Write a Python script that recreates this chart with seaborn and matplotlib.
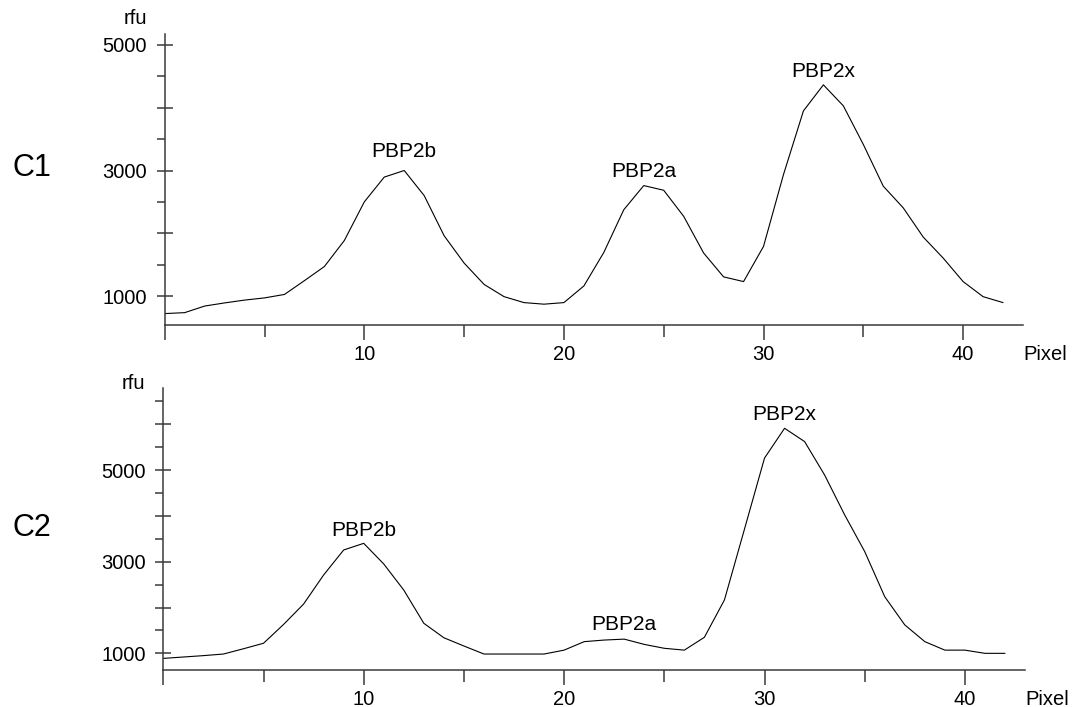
import matplotlib
matplotlib.use('Agg')
import matplotlib.pyplot as plt
import numpy as np
import pandas as pd
import seaborn as sns
from matplotlib.ticker import MultipleLocator, FuncFormatter

# 数据：两条泳道的荧光强度曲线 (rfu) 随像素位置变化
pixel = list(range(43))
c1_rfu = [720, 735, 840, 890, 935, 970, 1025, 1245, 1470, 1885, 2500, 2895, 3000, 2600,
          1960, 1525, 1185, 990, 895, 870, 895, 1160, 1695, 2375, 2760, 2685, 2270, 1685,
          1305, 1230, 1790, 2935, 3950, 4365, 4030, 3415, 2750, 2405, 1940, 1605, 1230, 990, 895]
c2_rfu = [890, 920, 950, 985, 1100, 1220, 1630, 2075, 2710, 3255, 3400, 2950, 2380, 1655,
          1340, 1160, 985, 985, 985, 985, 1070, 1255, 1290, 1310, 1195, 1110, 1070, 1350,
          2165, 3710, 5260, 5910, 5620, 4890, 4020, 3220, 2235, 1620, 1255, 1070, 1070, 1000, 1000]
lanes = ['C1', 'C2']
peak_names = ['PBP2b', 'PBP2a', 'PBP2x']
c1_peaks = [12, 24, 33]
c2_peaks = [10, 23, 31]

sns.set_style('ticks')
plt.rcParams['font.family'] = ['Liberation Sans', 'DejaVu Sans']
plt.rcParams['text.color'] = 'black'

fig = plt.figure(figsize=(10.73, 7.07), dpi=100)
# 坐标轴位置 (figure 比例)
ax1 = fig.add_axes([0.1535, 0.5403, 0.7999, 0.4116])
ax2 = fig.add_axes([0.1522, 0.0523, 0.8031, 0.3989])

panels = [
    (ax1, c1_rfu, c1_peaks, (538, 5175), [10, 6.5, 6]),
    (ax2, c2_rfu, c2_peaks, (636, 6789), [5, 6.5, 6]),
]

axis_col = '#3a3a3a'
for ax, vals, peaks, ylim, gaps in panels:
    df = pd.DataFrame({'Pixel': pixel, 'rfu': vals})
    sns.lineplot(data=df, x='Pixel', y='rfu', ax=ax, color='black', linewidth=0.8)
    ax.set_xlim(0, 43)
    ax.set_ylim(*ylim)
    ax.set_xlabel('')
    ax.set_ylabel('')

    for s in ['top', 'right']:
        ax.spines[s].set_visible(False)
    for s in ['left', 'bottom']:
        ax.spines[s].set_color(axis_col)
        ax.spines[s].set_linewidth(1.1)

    # x 轴刻度
    ax.xaxis.set_major_locator(MultipleLocator(10))
    ax.xaxis.set_minor_locator(MultipleLocator(5))
    ax.xaxis.set_major_formatter(FuncFormatter(lambda v, p: f'{int(v)}' if v > 0 else ''))
    ax.tick_params(axis='x', which='major', direction='out', length=10.8, width=1.1,
                   color=axis_col, labelcolor='black', pad=3.6, labelsize=14.5)
    ax.tick_params(axis='x', which='minor', direction='out', length=8.5, width=1.1,
                   color=axis_col)

    # y 轴刻度：只标 1000, 3000, 5000
    ax.yaxis.set_major_locator(MultipleLocator(1000))
    ax.yaxis.set_minor_locator(MultipleLocator(500))
    ax.yaxis.set_major_formatter(FuncFormatter(
        lambda v, p: f'{int(v)}' if int(round(v)) % 2000 == 1000 else ''))
    ax.tick_params(axis='y', which='major', direction='inout', length=11, width=1.1,
                   color=axis_col, labelcolor='black', pad=7.2, labelsize=14.5)
    ax.tick_params(axis='y', which='minor', direction='out', length=6, width=1.1,
                   color=axis_col)

    ax.annotate('Pixel', xy=(1, 0), xycoords='axes fraction', xytext=(0, -14.4),
                textcoords='offset points', ha='left', va='top', fontsize=14.5)

    # 峰标签
    for name, px, g in zip(peak_names, peaks, gaps):
        ax.annotate(name, xy=(px, vals[px]), xytext=(0, g), textcoords='offset points',
                    ha='center', va='baseline', fontsize=15)

fig.text(147 / 1073, 1 - 19 / 707, 'rfu', ha='right', va='center', fontsize=14.5)
fig.text(145 / 1073, 1 - 383 / 707, 'rfu', ha='right', va='center', fontsize=14.5)
fig.text(13 / 1073, 1 - 168.5 / 707, lanes[0], ha='left', va='center', fontsize=22)
fig.text(13 / 1073, 1 - 528 / 707, lanes[1], ha='left', va='center', fontsize=22)

fig.savefig('out.png', dpi=100)
